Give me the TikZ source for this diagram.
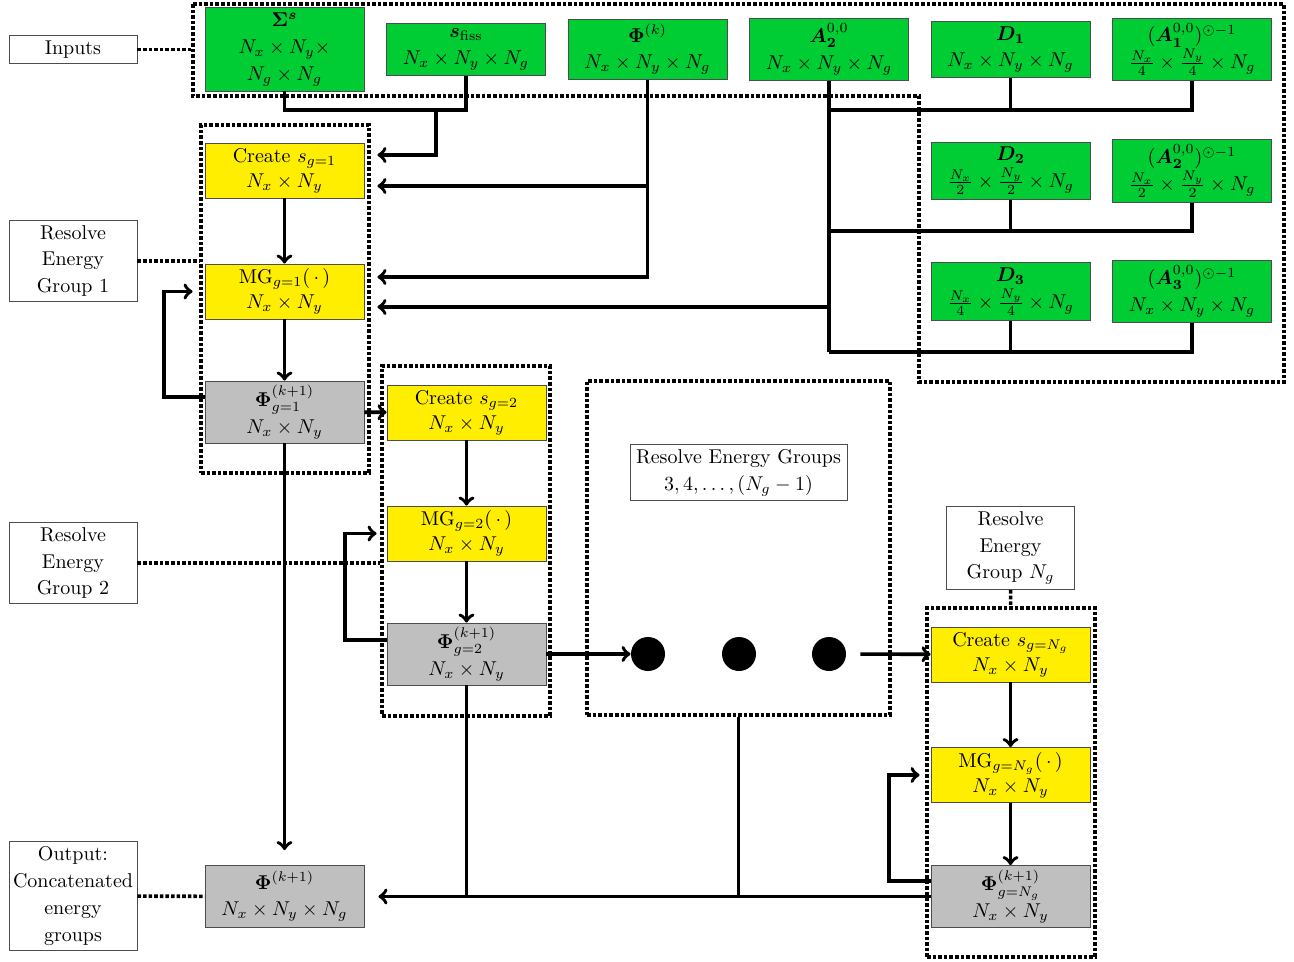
\documentclass[tikz,border=0pt]{standalone}
\usepackage{amsmath,bm}
\usepackage{xcolor}
\usepackage{tikz}
\usetikzlibrary{positioning}
\usetikzlibrary{arrows}
\usetikzlibrary{calc}

\definecolor{boxgreen}{RGB}{0,204,51}
\definecolor{boxyellow}{RGB}{255,238,0}
\definecolor{boxgray}{RGB}{191,191,191}

\begin{document}
\begin{tikzpicture}[x=0.5pt,y=-0.5pt,
            data/.style={draw=black!70,fill=boxgreen,rectangle, align=center,
            font=\linespread{1.12}\selectfont,
            minimum width=79.5pt, inner ysep=2.5pt, node distance=10.85pt},
            stage/.style={draw=black!70,fill=boxyellow,rectangle, align=center,
            font=\linespread{1.05}\selectfont,
            minimum width=79.5pt, minimum height=27.5pt, inner ysep=1.5pt},
            flux/.style={draw=black!70,fill=boxgray,rectangle, align=center,
            font=\linespread{1.12}\selectfont,
            minimum width=79.5pt, minimum height=31pt, inner ysep=1pt},
            note/.style={draw=black!70,fill=white,rectangle, align=center,
            font=\linespread{1.12}\selectfont,
            minimum width=64pt, inner xsep=1pt, inner ysep=2.5pt},
            grpbox/.style={draw, dash pattern=on 1.8pt off 1pt, line width=1.8pt,
            rectangle, inner sep=0pt},
            guide/.style={dash pattern=on 1.8pt off 1pt, line width=1.8pt},
            link/.style={line width=1.8pt},
            blob/.style={circle, fill=black, minimum size=17pt, inner sep=0pt}]
            \useasboundingbox (0,0) rectangle (1294,962);

            % dotted frames
            \coordinate (inTL) at (193,4);
            \draw[guide] (inTL) -- (1284,4) -- (1284,382) -- (919,382) -- (919,96) -- (193,96) -- cycle;
            \node[grpbox, minimum width=84pt, minimum height=174pt] (grp1) at (285,299) {};
            \node[grpbox, minimum width=84pt, minimum height=175pt] (grp2) at (466,541) {};
            \node[grpbox, minimum width=151.5pt, minimum height=167pt] (grpmid) at (738.5,548) {};
            \node[grpbox, minimum width=84pt, minimum height=174.5pt] (grpN) at (1011,782.5) {};

            % inputs
            \node[data, minimum height=41pt] (sigma) at (284.5,49.5) {$\bm{\Sigma}^{\bm{s}}$\\ $N_x\times N_y\times$\\ $N_g\times N_g$};
            \node[data] (sfiss) [right=of sigma] {$\bm{s}_{\text{fiss}}$\\ $N_x\times N_y\times N_g$};
            \node[data] (phik) [right=of sfiss] {$\bm{\Phi}^{(k)}$\\ $N_x\times N_y\times N_g$};
            \node[data] (a2) [right=of phik] {$\bm{A}_{\bm{2}}^{0,0}$\\ $N_x\times N_y\times N_g$};
            \node[data] (d1) [right=of a2] {$\bm{D}_{\bm{1}}$\\ $N_x\times N_y\times N_g$};
            \node[data] (a1inv) [right=of d1] {$(\bm{A}_{\bm{1}}^{0,0})^{\odot-1}$\\ $\frac{N_x}{4}\times\frac{N_y}{4}\times N_g$};
            \node[data] (d2) at (1010.5,171) {$\bm{D}_{\bm{2}}$\\ $\frac{N_x}{2}\times\frac{N_y}{2}\times N_g$};
            \node[data] (a2inv) [right=of d2] {$(\bm{A}_{\bm{2}}^{0,0})^{\odot-1}$\\ $\frac{N_x}{2}\times\frac{N_y}{2}\times N_g$};
            \node[data] (d3) at (1010.5,291.5) {$\bm{D}_{\bm{3}}$\\ $\frac{N_x}{4}\times\frac{N_y}{4}\times N_g$};
            \node[data] (a3inv) [right=of d3] {$(\bm{A}_{\bm{3}}^{0,0})^{\odot-1}$\\ $N_x\times N_y\times N_g$};

            % energy groups
            \node[stage] (create1) at (284.5,170.5) {Create $s_{g=1}$\\ $N_x\times N_y$};
            \node[stage] (mg1) at (284.5,291.5) {MG$_{g=1}(\,\cdot\,)$\\ $N_x\times N_y$};
            \node[flux] (phi1) at (284.5,412) {$\bm{\Phi}_{g=1}^{(k+1)}$\\ $N_x\times N_y$};
            \node[stage] (create2) at (466.5,412.5) {Create $s_{g=2}$\\ $N_x\times N_y$};
            \node[stage] (mg2) at (466.5,533.5) {MG$_{g=2}(\,\cdot\,)$\\ $N_x\times N_y$};
            \node[flux] (phi2) at (466.5,654) {$\bm{\Phi}_{g=2}^{(k+1)}$\\ $N_x\times N_y$};
            \node[stage] (createN) at (1010.5,654.5) {Create $s_{g=N_g}$\\ $N_x\times N_y$};
            \node[stage] (mgN) at (1010.5,775) {MG$_{g=N_g}(\,\cdot\,)$\\ $N_x\times N_y$};
            \node[flux] (phiN) at (1010.5,896.5) {$\bm{\Phi}_{g=N_g}^{(k+1)}$\\ $N_x\times N_y$};
            \node[flux] (phiout) at (284.5,896.5) {$\bm{\Phi}^{(k+1)}$\\ $N_x\times N_y\times N_g$};

            \node[blob] (dot1) at (648,654) {};
            \node[blob] (dot2) at (739,654) {};
            \node[blob] (dot3) at (829,654) {};

            % notes
            \node[note] (inputs) at (73,49.5) {Inputs};
            \node[note] (note1) at (73,261) {Resolve\\ Energy\\ Group 1};
            \node[note] (note2) at (73,563) {Resolve\\ Energy\\ Group 2};
            \node[note, inner xsep=3pt] (notemid) at (738.5,472.5) {Resolve Energy Groups\\ $3,4,\ldots,(N_g-1)$};
            \node[note] (noteN) at (1010.5,548) {Resolve\\ Energy\\ Group $N_g$};
            \node[note] (outnote) at (73,896) {Output:\\ Concatenated\\ energy\\ groups};

            \draw[guide] (inputs) -- (inputs -| inTL);
            \draw[guide] (note1) -- (note1 -| grp1.west);
            \draw[guide] (note2) -- (note2 -| grp2.west);
            \draw[guide] (noteN) -- (grpN);
            \draw[guide] (outnote) -- (phiout);

            % input buses
            \coordinate (bus1) at (0,110);
            \coordinate (bus2) at (0,231);
            \coordinate (bus3) at (0,352);
            \coordinate (sjoin) at (436,110);
            \coordinate (cr1hi) at ([yshift=7.75pt]create1.east);
            \coordinate (cr1lo) at ([yshift=-7.75pt]create1.east);
            \coordinate (mg1hi) at ([yshift=7.25pt]mg1.east);
            \coordinate (mg1lo) at ([yshift=-7.75pt]mg1.east);

            \draw[link] (sigma.south) |- (sfiss.south |- bus1) -- (sfiss.south);
            \draw[link, ->, shorten >=6.5pt] (sjoin) |- (cr1hi);
            \draw[link, ->, shorten >=6.5pt] (phik.south) |- (mg1hi);
            \draw[link, ->, shorten >=6.5pt] (phik.south |- cr1lo) -- (cr1lo);
            \draw[link] (a2.south) -- (a2.south |- bus3);
            \draw[link, ->, shorten >=6.5pt] (a2.south |- mg1lo) -- (mg1lo);
            \draw[link] (a2.south |- bus1) -| (a1inv.south);
            \draw[link] (d1.south) -- (d1.south |- bus1);
            \draw[link] (a2.south |- bus2) -| (a2inv.south);
            \draw[link] (d2.south) -- (d2.south |- bus2);
            \draw[link] (a2.south |- bus3) -| (a3inv.south);
            \draw[link] (d3.south) -- (d3.south |- bus3);

            % group flow
            \coordinate (loop1) at (164,291.5);
            \coordinate (loop2) at (345,533.5);
            \coordinate (loopN) at (889,775);
            \draw[link, ->] (create1) -- (mg1);
            \draw[link, ->] (mg1) -- (phi1);
            \draw[link, ->, shorten >=6pt] ([yshift=7.5pt]phi1.west) -| (loop1) -- (mg1);
            \draw[link, ->] (phi1) -- (create2);
            \draw[link, ->, shorten >=7.5pt] (phi1) -- (phiout);
            \draw[link, ->] (create2) -- (mg2);
            \draw[link, ->] (mg2) -- (phi2);
            \draw[link, ->, shorten >=5pt] ([yshift=7pt]phi2.west) -| (loop2) -- (mg2);
            \draw[link, ->] (phi2) -- (dot1);
            \draw[link, ->, shorten <=7pt] (dot3) -- (createN);
            \draw[link, ->] (createN) -- (mgN);
            \draw[link, ->] (mgN) -- (phiN);
            \draw[link, ->, shorten >=5.5pt] ([yshift=7.75pt]phiN.west) -| (loopN) -- (mgN);

            % output
            \draw[link, ->, shorten >=7pt] (phiN) -- (phiout);
            \draw[link] (phi2) -- (phi2 |- phiout);
            \draw[link] (grpmid) -- (grpmid |- phiout);
        \end{tikzpicture}
\end{document}
